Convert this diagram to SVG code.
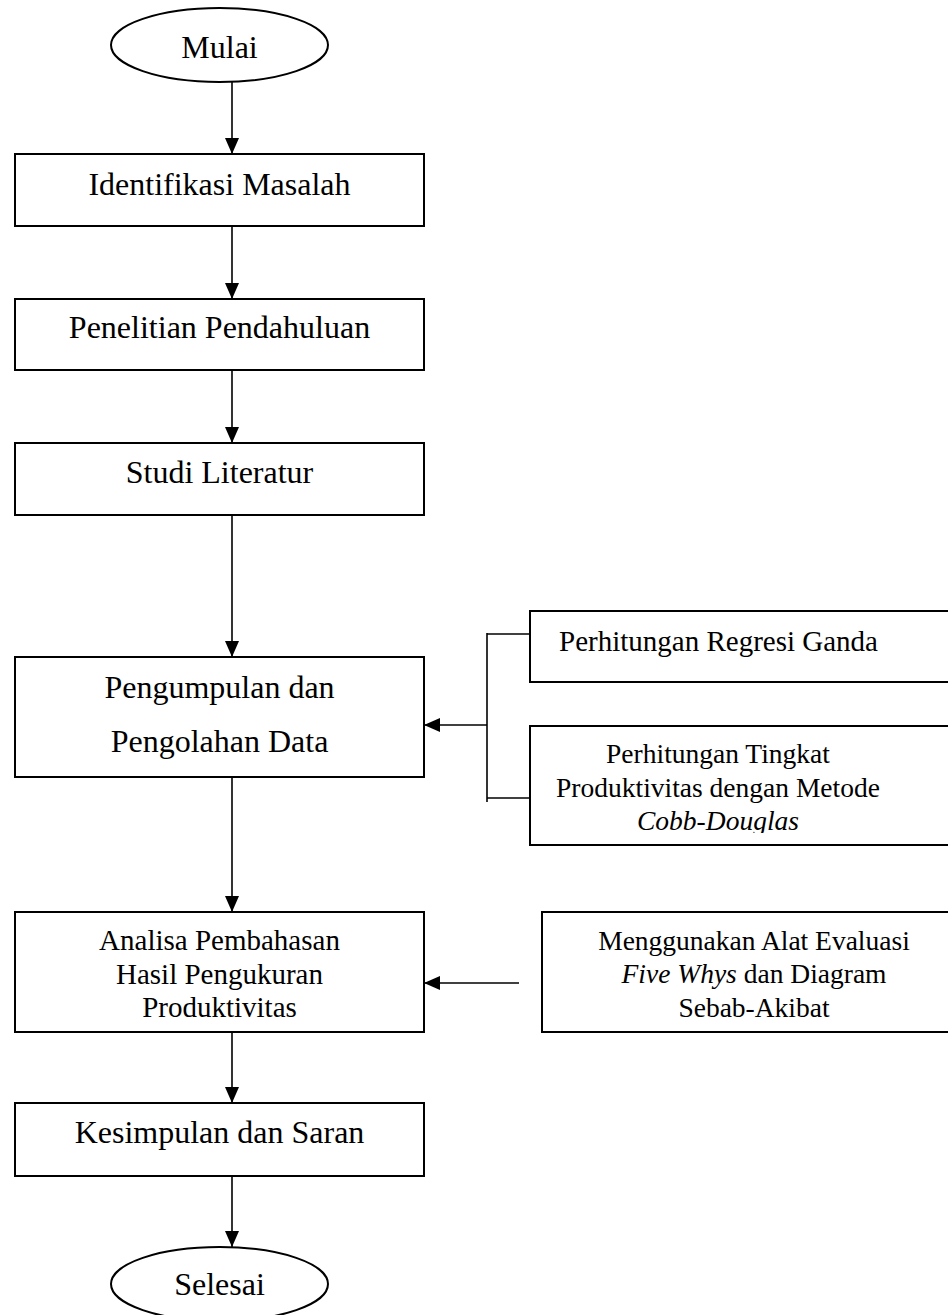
<svg xmlns="http://www.w3.org/2000/svg" width="948" height="1315" viewBox="0 0 948 1315">
<style>
  .box { fill: #ffffff; stroke: #000000; stroke-width: 2; }
  .ln { fill: none; stroke: #000000; stroke-width: 1.6; }
  .t { font-family: "Liberation Serif", "Times New Roman", serif; fill: #000000; text-anchor: middle; }
  .t32 { font-size: 32px; }
  .t29 { font-size: 29px; }
  .t27 { font-size: 27.5px; }
  .i { font-style: italic; }
</style>
<defs>
  <marker id="ah" markerUnits="userSpaceOnUse" markerWidth="16" markerHeight="14" refX="16" refY="7" orient="auto">
    <path d="M0,0 L16,7 L0,14 Z" fill="#000000"/>
  </marker>
  <clipPath id="clipTingkat">
    <rect x="531" y="727" width="417" height="106"/>
  </clipPath>
</defs>
<rect x="0" y="0" width="948" height="1315" fill="#ffffff"/>

<g id="connectors">
  <line class="ln" x1="232" y1="82" x2="232" y2="154" marker-end="url(#ah)"/>
  <line class="ln" x1="232" y1="226" x2="232" y2="299" marker-end="url(#ah)"/>
  <line class="ln" x1="232" y1="370" x2="232" y2="443" marker-end="url(#ah)"/>
  <line class="ln" x1="232" y1="515" x2="232" y2="657" marker-end="url(#ah)"/>
  <line class="ln" x1="232" y1="772" x2="232" y2="912" marker-end="url(#ah)"/>
  <line class="ln" x1="232" y1="1032" x2="232" y2="1103" marker-end="url(#ah)"/>
  <line class="ln" x1="232" y1="1176" x2="232" y2="1247" marker-end="url(#ah)"/>
  <line class="ln" x1="487" y1="633" x2="487" y2="802"/>
  <line class="ln" x1="487" y1="634" x2="530" y2="634"/>
  <line class="ln" x1="487" y1="798" x2="530" y2="798"/>
  <line class="ln" x1="487" y1="725" x2="424" y2="725" marker-end="url(#ah)"/>
  <line class="ln" x1="519" y1="983" x2="424" y2="983" marker-end="url(#ah)"/>
</g>

<g id="mulai">
  <ellipse class="box" cx="219.5" cy="45" rx="108.5" ry="37"/>
  <text class="t t32" x="219.5" y="58">Mulai</text>
</g>

<g id="identifikasi">
  <rect class="box" x="15" y="154" width="409" height="72"/>
  <text class="t t32" x="219.5" y="195">Identifikasi Masalah</text>
</g>

<g id="penelitian">
  <rect class="box" x="15" y="299" width="409" height="71"/>
  <text class="t t32" x="219.5" y="338">Penelitian Pendahuluan</text>
</g>

<g id="studi">
  <rect class="box" x="15" y="443" width="409" height="72"/>
  <text class="t t32" x="219.5" y="483">Studi Literatur</text>
</g>

<g id="pengumpulan">
  <rect class="box" x="15" y="657" width="409" height="120"/>
  <text class="t t32" x="219.5" y="698">Pengumpulan dan</text>
  <text class="t t32" x="219.5" y="752">Pengolahan Data</text>
</g>

<g id="regresi">
  <rect class="box" x="530" y="611" width="430" height="71"/>
  <text class="t t29" x="718.5" y="651">Perhitungan Regresi Ganda</text>
</g>

<g id="tingkat">
  <rect class="box" x="530" y="726" width="430" height="119"/>
  <g clip-path="url(#clipTingkat)">
    <text class="t t27" x="718" y="763">Perhitungan Tingkat</text>
    <text class="t t27" x="718" y="797">Produktivitas dengan Metode</text>
    <text class="t t27 i" x="718" y="830">Cobb-Douglas</text>
  </g>
</g>

<g id="analisa">
  <rect class="box" x="15" y="912" width="409" height="120"/>
  <text class="t t29" x="219.5" y="950">Analisa Pembahasan</text>
  <text class="t t29" x="219.5" y="984">Hasil Pengukuran</text>
  <text class="t t29" x="219.5" y="1017">Produktivitas</text>
</g>

<g id="menggunakan">
  <rect class="box" x="542" y="912" width="420" height="120"/>
  <text class="t t27" x="754" y="950">Menggunakan Alat Evaluasi</text>
  <text class="t t27" x="754" y="983"><tspan class="i">Five Whys</tspan> dan Diagram</text>
  <text class="t t27" x="754" y="1017">Sebab-Akibat</text>
</g>

<g id="kesimpulan">
  <rect class="box" x="15" y="1103" width="409" height="73"/>
  <text class="t t32" x="219.5" y="1143">Kesimpulan dan Saran</text>
</g>

<g id="selesai">
  <ellipse class="box" cx="219.5" cy="1284" rx="108.5" ry="37"/>
  <text class="t t32" x="219.5" y="1295">Selesai</text>
</g>
</svg>
